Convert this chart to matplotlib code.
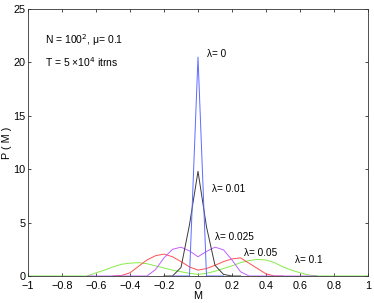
import numpy as np
import matplotlib
matplotlib.use("Agg")
import matplotlib.pyplot as plt

plt.rcParams['font.family'] = ['Liberation Sans', 'DejaVu Sans']

# Data (M step 0.05)
m_green = [-1.0, -0.95, -0.9, -0.85, -0.8, -0.75, -0.7, -0.65, -0.6, -0.55, -0.5, -0.45, -0.4, -0.35,
           -0.3, -0.25, -0.2, -0.15, -0.1, -0.05, 0.0, 0.05, 0.1, 0.15, 0.2, 0.25, 0.3, 0.35, 0.4,
           0.45, 0.5, 0.55, 0.6, 0.65, 0.7, 0.75, 0.8, 0.85, 0.9, 0.95, 1.0]
p_green = [0, 0, 0, 0, 0, 0, 0, 0.0, 0.3, 0.55, 0.85, 1.1, 1.2, 1.25,
           1.15, 0.95, 0.75, 0.55, 0.4, 0.25, 0.15, 0.25, 0.45, 0.7, 0.95, 1.25, 1.45, 1.55, 1.5,
           1.25, 0.85, 0.55, 0.3, 0.1, 0.0, 0, 0, 0, 0, 0, 0]

m_red = [-0.5, -0.45, -0.4, -0.35, -0.3, -0.25, -0.2, -0.15, -0.1, -0.05, 0.0,
         0.05, 0.1, 0.15, 0.2, 0.25, 0.3, 0.35, 0.4, 0.45, 0.5]
p_red = [0.0, 0.05, 0.3, 0.9, 1.5, 1.9, 2.05, 1.8, 1.35, 0.85, 0.55,
         0.7, 1.0, 1.35, 1.6, 1.7, 1.2, 0.7, 0.2, 0.0, 0.0]

m_mag = [-0.65, -0.6, -0.55, -0.5, -0.45, -0.4, -0.35, -0.3, -0.25, -0.2, -0.15, -0.1, -0.05, 0.0,
         0.05, 0.1, 0.15, 0.2, 0.25, 0.3, 0.35, 0.4, 0.45, 0.5, 0.55, 0.6, 0.65, 0.7]
p_mag = [0, 0, 0, 0, 0, 0, 0, 0.0, 0.6, 1.7, 2.5, 2.7, 2.35, 1.8,
         2.3, 2.7, 2.45, 1.5, 0.4, 0.0, 0, 0, 0, 0, 0, 0, 0, 0]

m_black = [-0.2, -0.15, -0.1, -0.05, 0.0, 0.05, 0.1, 0.15, 0.2, 0.25]
p_black = [0, 0.0, 0.8, 4.8, 9.8, 4.6, 1.0, 0.15, 0.0, 0]

m_blue = [-0.15, -0.1, -0.05, 0.0, 0.05, 0.1, 0.15]
p_blue = [0, 0, 0.0, 20.5, 0.0, 0, 0]

labels = ['λ= 0', 'λ= 0.01', 'λ= 0.025', 'λ= 0.05', 'λ= 0.1']
label_x = [0.052, 0.082, 0.10, 0.272, 0.572]
label_y = [20.8, 8.1, 3.65, 2.15, 1.5]

xticks = [-1, -0.8, -0.6, -0.4, -0.2, 0, 0.2, 0.4, 0.6, 0.8, 1]
xticklabels = ['−1', '−0.8', '−0.6', '−0.4', '−0.2', '0', '0.2', '0.4', '0.6', '0.8', '1']
yticks = [0, 5, 10, 15, 20, 25]

fig = plt.figure(figsize=(3.74, 3.03), dpi=100)
ax = fig.add_axes([28/374, (303-276)/303, 340/374, 267/303])

lw = 0.7
ax.plot(m_green, p_green, color='#86ec4a', lw=lw)
ax.plot(m_red, p_red, color='#ff5050', lw=lw)
ax.plot(m_mag, p_mag, color='#c060ff', lw=lw)
ax.plot(m_black, p_black, color='#3a3a3a', lw=lw)
ax.plot(m_blue, p_blue, color='#5a6cff', lw=lw)

for t, x, y in zip(labels, label_x, label_y):
    ax.text(x, y, t, fontsize=7.2, va='center', ha='left')

ax.text(-0.9, 22.1, 'N = 100$^2$, μ= 0.1', fontsize=7.5, va='center')
ax.text(-0.9, 20.0, 'T = 5 ×10$^4$ itrns', fontsize=7.5, va='center')

ax.set_xlim(-1, 1)
ax.set_ylim(0, 25)
ax.set_xticks(xticks)
ax.set_xticklabels(xticklabels)
ax.set_yticks(yticks)
ax.tick_params(direction='in', top=True, right=True, labelsize=7.8, length=2.5, width=0.5)
ax.tick_params(axis='x', pad=3.5)
ax.tick_params(axis='y', pad=2)
for s in ax.spines.values():
    s.set_linewidth(0.6)
    s.set_color('#333333')
ax.set_xlabel('M', fontsize=7.8, labelpad=0)
ax.set_ylabel('P ( M )', fontsize=7.8, labelpad=1)

fig.savefig('out.png', dpi=100)
